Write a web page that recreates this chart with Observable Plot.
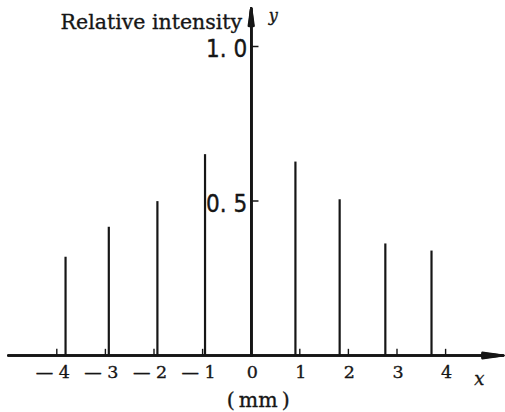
<!DOCTYPE html>
<html>
<head>
<meta charset="utf-8">
<script src="https://cdn.jsdelivr.net/npm/d3@7"></script>
<script src="https://cdn.jsdelivr.net/npm/@observablehq/plot@0.6"></script>
<style>
  html, body { margin: 0; padding: 0; background: #fff; }
  #chart svg { display: block; }
</style>
</head>
<body>
<div id="chart"></div>
<script>
// ---- data ----
const peakX = [-3.82, -2.93, -1.93, -0.95, 0, 0.91, 1.82, 2.76, 3.71];
const peakIntensity = [0.318, 0.415, 0.498, 0.650, 1.0, 0.626, 0.504, 0.361, 0.338];
const xTicks = [-4, -3, -2, -1, 0, 1, 2, 3, 4];
const xTickLabels = ["— 4", "— 3", "— 2", "— 1", "0", "1", "2", "3", "4"];
const yTicks = [1.0, 0.5];
const yTickLabels = ["1. 0", "0. 5"];
const xAxisExtent = [-5.0, 5.19];
const yAxisTop = 1.123;
const yTitle = "Relative intensity";
const xUnit = "(\u2009mm\u2009)";

const peaks = peakX.map((x, i) => ({x, y: peakIntensity[i]}));
const xt = xTicks.map((x, i) => ({x, label: xTickLabels[i]}));
const yt = yTicks.map((y, i) => ({y, label: yTickLabels[i]}));

const ink = "#161616";
const serif = "'DejaVu Serif', 'Liberation Serif', serif";
const narrow = "'Liberation Sans Narrow', 'DejaVu Sans Condensed', 'Liberation Sans', sans-serif";
const heavy = {fill: ink, stroke: ink, strokeWidth: 0.35};

// filled-looking arrowheads: several nested open heads
const headAngles = [16, 12, 8, 4, 1];
const xArrows = headAngles.map(a => Plot.arrow([0], {x1: xAxisExtent[0], x2: xAxisExtent[1], y1: 0, y2: 0,
  stroke: ink, strokeWidth: 2, headLength: 16, headAngle: a}));
const yArrows = headAngles.map(a => Plot.arrow([0], {x1: 0, x2: 0, y1: 0, y2: yAxisTop,
  stroke: ink, strokeWidth: 2.4, headLength: 11, headAngle: a}));

const chart = Plot.plot({
  width: 505,
  height: 412,
  marginLeft: 56.3,
  marginRight: 59.9,
  marginTop: 46,
  marginBottom: 57,
  x: {domain: [-4, 4], axis: null},
  y: {domain: [0, 1], axis: null},
  marks: [
    // peaks
    Plot.ruleX(peaks, {x: "x", y1: 0, y2: "y", stroke: ink, strokeWidth: 2.2}),
    ...xArrows,
    ...yArrows,
    // small upward ticks on x axis
    Plot.ruleX(xTicks.filter(d => d !== 0), {x: d => d, y1: 0, y2: 0.02, stroke: ink, strokeWidth: 1.4}),
    // ticks on y axis
    Plot.ruleY(yTicks, {y: d => d, x1: 0, x2: 0.16, stroke: ink, strokeWidth: 1.5}),
    // x tick labels
    Plot.text(xt.filter(d => d.x < 0), {x: "x", y: 0, text: "label", dy: 17, dx: -4,
      fontSize: 17.5, fontFamily: serif, textAnchor: "middle", ...heavy}),
    Plot.text(xt.filter(d => d.x >= 0), {x: "x", y: 0, text: "label", dy: 17, dx: 1,
      fontSize: 17.5, fontFamily: serif, textAnchor: "middle", ...heavy}),
    // y tick labels
    Plot.text(yt, {x: 0, y: "y", text: "label", dx: -4, dy: 3,
      fontSize: 24, fontFamily: narrow, textAnchor: "end", ...heavy}),
    // titles
    Plot.text([yTitle], {x: 0, y: 1, text: d => d, dx: -9, dy: -24,
      fontSize: 20.5, fontFamily: serif, textAnchor: "end", ...heavy}),
    Plot.text(["y"], {x: 0, y: 1, text: d => d, dx: 22, dy: -31,
      fontSize: 16, fontFamily: serif, fontStyle: "italic", ...heavy}),
    Plot.text(["x"], {x: xAxisExtent[1], y: 0, text: d => d, dx: -24, dy: 24,
      fontSize: 18, fontFamily: serif, fontStyle: "italic", ...heavy}),
    Plot.text([xUnit], {x: 0, y: 0, text: d => d, dx: 7, dy: 45,
      fontSize: 20.5, fontFamily: serif, ...heavy})
  ]
});
document.getElementById("chart").appendChild(chart);
</script>
</body>
</html>
